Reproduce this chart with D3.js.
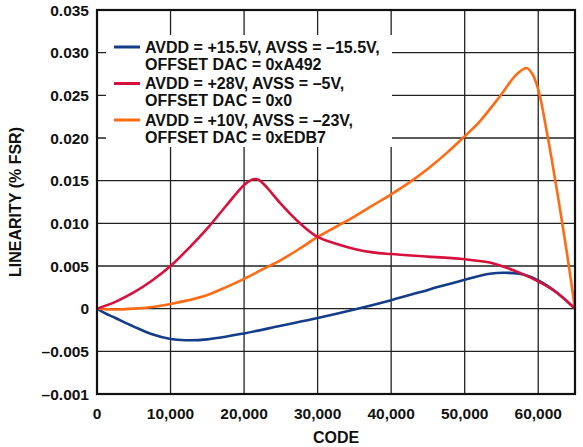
<!DOCTYPE html>
<html>
<head>
<meta charset="utf-8">
<script src="https://cdn.jsdelivr.net/npm/d3@7"></script>
<style>
    body { margin: 0; background: #fff; }
    svg text { font-family: "Liberation Sans", Arial, sans-serif; font-weight: bold; fill: #111; }
</style>
</head>
<body>
<div id="chart"></div>
<script>
"use strict";

// tick labels (the bottom one reads "–0.001" in the original)
const yTicks = [0.035, 0.030, 0.025, 0.020, 0.015, 0.010, 0.005, 0, -0.005, -0.010];
const yTickLabels = ["0.035", "0.030", "0.025", "0.020", "0.015", "0.010", "0.005", "0", "–0.005", "–0.001"];
const xTicks = [0, 10000, 20000, 30000, 40000, 50000, 60000];

// series: [code, linearity %FSR]
const blueSeries = [
    [0, 0], [1000, -0.0005], [2500, -0.0011], [5000, -0.0021], [7500, -0.0030],
    [10000, -0.00355], [12000, -0.0037], [15000, -0.0036], [20000, -0.0029],
    [25000, -0.0020], [30000, -0.0011], [35000, -0.0001], [40000, 0.0010],
    [45000, 0.0022], [50000, 0.0034], [53400, 0.0041], [56000, 0.0042],
    [58000, 0.0040], [60000, 0.0033], [62500, 0.0019], [65000, 0]
];
const redSeries = [
    [0, 0], [2500, 0.0008], [5000, 0.0019], [7500, 0.0033], [10000, 0.0050],
    [12500, 0.0071], [15000, 0.0094], [17500, 0.0120], [20000, 0.0145],
    [21000, 0.0151], [21500, 0.0152], [22000, 0.0151], [23000, 0.0143],
    [24880, 0.0124], [27600, 0.0100], [30000, 0.0084], [32500, 0.0076],
    [35000, 0.0070], [37500, 0.0066], [40000, 0.0064], [45000, 0.0061],
    [50000, 0.0058], [53400, 0.0054], [55000, 0.0050], [57500, 0.0042],
    [60000, 0.0032], [62500, 0.0019], [65000, 0]
];
const orangeSeries = [
    [0, 0], [2500, -0.0001], [5000, 0.0000], [7500, 0.0002], [10000, 0.00055],
    [12500, 0.0010], [15000, 0.0016], [17500, 0.0025], [20000, 0.0035],
    [22500, 0.0046], [25000, 0.0057], [27500, 0.0070], [30000, 0.0084],
    [32500, 0.0096], [35000, 0.0108], [37500, 0.0121], [40000, 0.0134],
    [42500, 0.0148], [45000, 0.0164], [47500, 0.0182], [50000, 0.0202],
    [52000, 0.0219], [54800, 0.0249], [57000, 0.0274], [58400, 0.0282],
    [59200, 0.0275], [60000, 0.0257], [61150, 0.0208], [62500, 0.0141],
    [63870, 0.0067], [65000, 0]
];

const legendLabels = [
    ["AVDD = +15.5V, AVSS = –15.5V,", "OFFSET DAC = 0xA492"],
    ["AVDD = +28V, AVSS = –5V,", "OFFSET DAC = 0x0"],
    ["AVDD = +10V, AVSS = –23V,", "OFFSET DAC = 0xEDB7"]
];
const colors = ["#143c88", "#d8103c", "#ff6b12"];

const width = 583, height = 447;
const margin = { top: 10, right: 8, bottom: 53, left: 97 };

const svg = d3.select("#chart").append("svg")
    .attr("width", width)
    .attr("height", height);

const x = d3.scaleLinear().domain([0, 65000]).range([margin.left, width - margin.right]);
const y = d3.scaleLinear().domain([-0.010, 0.035]).range([height - margin.bottom, margin.top]);

// grid
const grid = svg.append("g").attr("stroke", "#222").attr("stroke-width", 1.3);
grid.selectAll(".vg").data(xTicks.slice(1)).enter().append("line")
    .attr("x1", d => x(d)).attr("x2", d => x(d))
    .attr("y1", y.range()[1]).attr("y2", y.range()[0]);
grid.selectAll(".hg").data(yTicks.slice(1, -1)).enter().append("line")
    .attr("x1", x.range()[0]).attr("x2", x.range()[1])
    .attr("y1", d => y(d)).attr("y2", d => y(d));

// tick labels
svg.selectAll(".ylab").data(yTicks).enter().append("text")
    .attr("x", margin.left - 8)
    .attr("y", d => y(d))
    .attr("dy", "0.36em")
    .attr("text-anchor", "end")
    .attr("font-size", 15.5)
    .text((d, i) => yTickLabels[i]);

svg.selectAll(".xlab").data(xTicks).enter().append("text")
    .attr("x", d => x(d))
    .attr("y", height - margin.bottom + 19)
    .attr("dy", "0.36em")
    .attr("text-anchor", "middle")
    .attr("font-size", 15.5)
    .text(d => d3.format(",")(d));

// axis titles
svg.append("text")
    .attr("x", (x.range()[0] + x.range()[1]) / 2)
    .attr("y", 437)
    .attr("dy", "0.36em")
    .attr("text-anchor", "middle")
    .attr("font-size", 16)
    .text("CODE");

svg.append("text")
    .attr("transform", `translate(15, ${(y.range()[0] + y.range()[1]) / 2}) rotate(-90)`)
    .attr("dy", "0.36em")
    .attr("text-anchor", "middle")
    .attr("font-size", 16)
    .text("LINEARITY (% FSR)");

// legend (white box covers grid)
const legend = svg.append("g");
legend.append("rect")
    .attr("x", 106).attr("y", 35)
    .attr("width", 286).attr("height", 112)
    .attr("fill", "#fff");

legendLabels.forEach(function (lines, i) {
    const top = 47 + i * 36.5;
    legend.append("line")
        .attr("x1", 114).attr("x2", 140)
        .attr("y1", top).attr("y2", top)
        .attr("stroke", colors[i]).attr("stroke-width", 3);
    lines.forEach(function (t, j) {
        legend.append("text")
            .attr("x", 145)
            .attr("y", top + j * 17)
            .attr("dy", "0.36em")
            .attr("font-size", 16)
            .text(t);
    });
});

// curves
const line = d3.line()
    .x(d => x(d[0]))
    .y(d => y(d[1]))
    .curve(d3.curveCatmullRom.alpha(0.5));

[blueSeries, orangeSeries, redSeries].forEach(function (s) {
    const i = s === blueSeries ? 0 : (s === redSeries ? 1 : 2);
    svg.append("path")
        .datum(s)
        .attr("d", line)
        .attr("fill", "none")
        .attr("stroke", colors[i])
        .attr("stroke-width", 2.6)
        .attr("stroke-linejoin", "round");
});

// frame
svg.append("rect")
    .attr("x", x.range()[0]).attr("y", y.range()[1])
    .attr("width", x.range()[1] - x.range()[0])
    .attr("height", y.range()[0] - y.range()[1])
    .attr("fill", "none")
    .attr("stroke", "#111")
    .attr("stroke-width", 2.2);
</script>
</body>
</html>
